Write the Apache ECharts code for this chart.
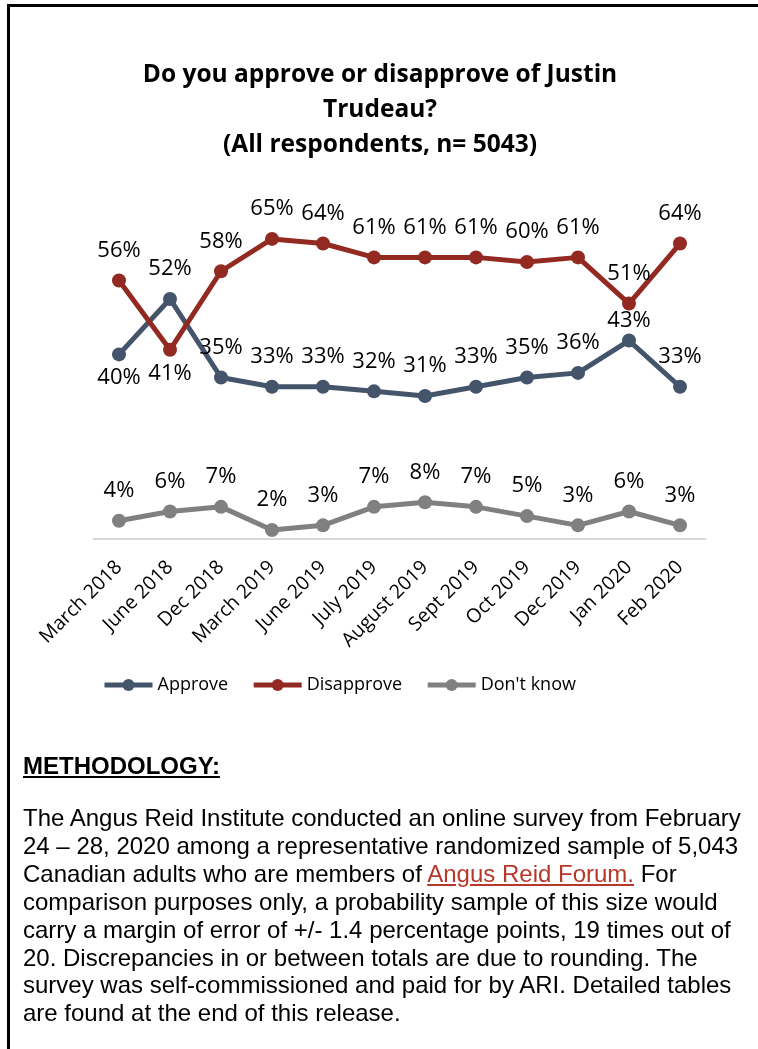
<!DOCTYPE html>
<html>
<head>
<meta charset="utf-8">
<script src="https://cdn.jsdelivr.net/npm/echarts@6/dist/echarts.min.js"></script>
<style>
  html, body { margin: 0; padding: 0; background: #fff; }
  #page { position: relative; width: 758px; height: 1049px; overflow: hidden; }
  #chart { position: absolute; left: 0; top: 0; width: 758px; height: 1049px; }
  #frame { position: absolute; left: 7px; top: 4px; right: 0; bottom: 0;
           border-top: 3px solid #000; border-left: 3px solid #000; pointer-events: none; }
  .method { position: absolute; left: 23px; font-family: "Liberation Sans", Arial, sans-serif;
            color: #000; white-space: nowrap; }
  #mhead { top: 752px; font-size: 24px; line-height: 28px; font-weight: bold; text-decoration: underline; }
  #mbody { top: 804px; font-size: 24px; line-height: 27.9px; }
  #mbody a { color: #B5382A; text-decoration: underline; }
</style>
</head>
<body>
<div id="page">
  <div id="chart"></div>
  <div id="frame"></div>
  <div class="method" id="mhead">METHODOLOGY:</div>
  <div class="method" id="mbody">The Angus Reid Institute conducted an online survey from February<br>24 – 28, 2020 among a representative randomized sample of 5,043<br>Canadian adults who are members of <a>Angus Reid Forum.</a> For<br>comparison purposes only, a probability sample of this size would<br>carry a margin of error of +/- 1.4 percentage points, 19 times out of<br>20. Discrepancies in or between totals are due to rounding. The<br>survey was self-commissioned and paid for by ARI. Detailed tables<br>are found at the end of this release.</div>
</div>
<script>
// Survey waves
var waves = ['March 2018', 'June 2018', 'Dec 2018', 'March 2019', 'June 2019', 'July 2019',
             'August 2019', 'Sept 2019', 'Oct 2019', 'Dec 2019', 'Jan 2020', 'Feb 2020'];

// Share of respondents (%)
var approve    = [40, 52, 35, 33, 33, 32, 31, 33, 35, 36, 43, 33];
var disapprove = [56, 41, 58, 65, 64, 61, 61, 61, 60, 61, 51, 64];
var dontKnow   = [4, 6, 7, 2, 3, 7, 8, 7, 5, 3, 6, 3];

var FONT = '"Open Sans", "Noto Sans", sans-serif';

var COLORS = { approve: '#44546A', disapprove: '#932A22', dontKnow: '#808080' };

// Per-point label placement tweaks, keyed by point index
function withLabels(values, tweaks) {
  return values.map(function (v, i) {
    var t = tweaks[i];
    return t ? { value: v, label: t } : v;
  });
}

function lineSeries(name, color, data) {
  return {
    name: name,
    type: 'line',
    data: data,
    symbol: 'circle',
    symbolSize: 14,
    lineStyle: { width: 5, color: color },
    itemStyle: { color: color },
    label: {
      show: true,
      position: 'top',
      distance: 12,
      formatter: '{c}%',
      fontFamily: FONT,
      fontSize: 22,
      color: '#000'
    }
  };
}

function legendItem(name, color) {
  return { name: name, itemStyle: { color: color }, lineStyle: { color: color, width: 5 } };
}

var chart = echarts.init(document.getElementById('chart'), null, { renderer: 'canvas' });
chart.setOption({
  animation: false,
  backgroundColor: '#fff',
  title: {
    text: 'Do you approve or disapprove of Justin\nTrudeau?\n(All respondents, n= 5043)',
    left: 375,
    top: 53,
    textAlign: 'center',
    textStyle: { fontFamily: FONT, fontSize: 24.5, fontWeight: 'bold', lineHeight: 35, color: '#000' }
  },
  legend: {
    left: 97,
    top: 671,
    itemWidth: 48,
    itemHeight: 15,
    itemGap: 23,
    textStyle: { fontFamily: FONT, fontSize: 18, color: '#000' },
    data: [
      legendItem('Approve', COLORS.approve),
      legendItem('Disapprove', COLORS.disapprove),
      legendItem("Don't know", COLORS.dontKnow)
    ]
  },
  grid: { left: 93.5, right: 52.5, top: 215.8, bottom: 509.8 },
  xAxis: {
    type: 'category',
    data: waves,
    boundaryGap: true,
    axisLine: { lineStyle: { color: '#D9D9D9', width: 2 } },
    axisTick: { show: false },
    axisLabel: { rotate: 45, margin: 25, interval: 0, fontFamily: FONT, fontSize: 19.5, color: '#000' }
  },
  yAxis: { type: 'value', min: 0, max: 70, show: false, splitLine: { show: false } },
  series: [
    lineSeries('Approve', COLORS.approve, withLabels(approve, {
      0: { position: 'bottom', distance: 5 },
      10: { distance: 2 }
    })),
    lineSeries('Disapprove', COLORS.disapprove, withLabels(disapprove, {
      1: { position: 'bottom', distance: 6 }
    })),
    lineSeries("Don't know", COLORS.dontKnow, dontKnow)
  ]
});
</script>
</body>
</html>
